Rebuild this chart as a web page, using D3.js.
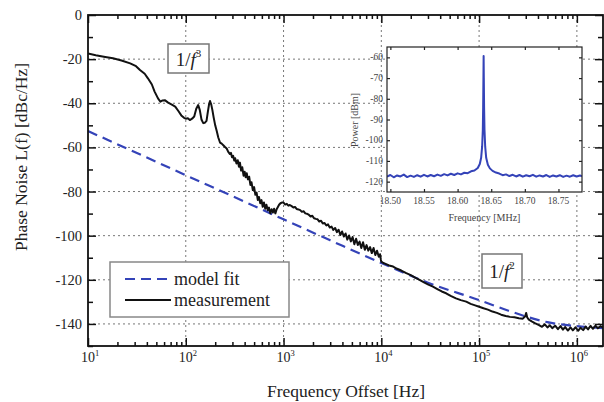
<!DOCTYPE html>
<html>
<head>
<meta charset="utf-8">
<script src="https://cdn.jsdelivr.net/npm/d3@7"></script>
<style>
  body { margin: 0; background: #fff; }
  svg { display: block; font-family: "Liberation Serif", "Times New Roman", serif; }
</style>
</head>
<body>
<svg id="chart" width="604" height="402"></svg>
<script>
// ---- main plot data ----
var measFreq = [10, 12, 15, 18, 22, 27, 31, 34, 38, 41, 45, 48, 52, 55, 58, 61, 66, 72, 78, 84, 90, 96,
  100, 105, 110, 116, 122, 128, 134, 139, 145, 151, 157, 163, 168, 173, 177, 182, 187, 193, 200, 207,
  215, 224, 233, 242, 252, 262, 272, 283,
  290, 297, 305, 313, 320, 330, 340, 350, 358, 368, 378, 390, 400, 410, 420, 432, 445, 458, 470, 485,
  500, 515, 530, 545, 560, 578, 595, 612, 630, 650, 668, 690, 710, 732, 755, 778, 800, 825, 850, 875,
  900, 930, 960,
  1000, 1040, 1080, 1120, 1160, 1210, 1260, 1310, 1360, 1420, 1480, 1540, 1600, 1670, 1740, 1810, 1890,
  1970, 2050, 2140, 2230, 2320, 2420, 2520, 2630, 2740, 2850, 2970, 3100, 3230, 3370, 3510, 3660, 3810,
  3970, 4140, 4310, 4490, 4680, 4880, 5080, 5300, 5520, 5750, 5990, 6240, 6500, 6780, 7060, 7360, 7670,
  7990, 8330, 8680, 9040, 9420, 9700, 9900, 10000,
  10500, 11200, 12000, 13200, 14500, 16000, 18000, 20000, 22200, 24600, 27300, 30300, 33700, 37400,
  41500, 46000, 51200, 58000, 65000, 73800, 82000, 91000, 100000, 111000, 123000, 137000, 152000,
  168000, 187000, 207000, 230000, 255000, 280000, 296000, 303000, 310000, 320000, 345000, 372000, 410000,
  440000, 470000, 500000, 530000, 560000, 600000, 640000, 680000, 720000, 760000, 810000, 860000,
  910000, 970000, 1030000, 1090000, 1160000, 1230000, 1300000, 1380000, 1460000, 1550000, 1640000,
  1740000, 1850000];
var measDb = [-17.4, -18.2, -19.0, -19.6, -20.6, -21.9, -23.2, -24.9, -26.6, -28.7, -31.5, -34.7, -37.8,
  -39.3, -38.7, -38.6, -39.7, -40.6, -41.5, -43.5, -45.5, -46.6,
  -47.0, -46.8, -47.6, -47.0, -46.0, -42.5, -40.8, -43.0, -47.5, -49.0, -48.8, -48.0, -44.0, -40.5,
  -39.0, -40.5, -43.0, -46.5, -50.0, -52.5, -55.5, -57.8, -58.3, -59.0, -59.8, -60.5, -62.0, -63.0,
  -62.5, -64.5, -63.8, -66.0, -64.9, -67.3, -65.8, -68.8, -66.9, -70.5, -69.0, -72.8, -71.0, -73.5,
  -71.7, -74.5, -73.3, -77.0, -75.8, -79.3, -78.0, -81.5, -80.5, -83.8, -82.5, -85.3, -83.9, -86.9,
  -85.0, -87.8, -86.0, -88.5, -87.3, -89.9, -88.0, -89.5, -87.8, -89.9, -88.0, -87.0, -86.0, -85.3, -85.0,
  -85.0, -85.9, -85.6, -86.4, -86.1, -86.6, -87.2, -87.0, -87.9, -88.1, -88.4, -89.2, -88.9, -89.9,
  -90.1, -90.5, -91.3, -91.0, -92.1, -92.4, -92.6, -93.6, -93.2, -94.5, -94.3, -95.4, -94.9, -96.3,
  -95.9, -97.4, -96.5, -98.4, -97.3, -99.7, -98.1, -100.4, -99.0, -101.8, -99.9, -102.6, -100.6,
  -103.9, -101.4, -104.2, -102.7, -105.6, -103.0, -106.4, -104.3, -106.8, -105.2, -107.9, -105.6,
  -108.8, -106.8, -109.6, -108.4, -111.0, -111.8,
  -112.4, -112.9, -113.5, -114.0, -115.0, -115.8, -117.0, -117.9, -119.0, -120.0, -121.2, -122.2,
  -123.1, -124.2, -125.3, -126.1, -127.3, -128.4, -129.2, -129.9, -130.9, -131.6, -132.2, -132.9,
  -133.5, -134.4, -135.0, -135.8, -136.4, -136.8, -137.0, -137.4, -137.6, -136.5, -135.0, -137.0,
  -137.9, -138.8, -139.6, -140.5,
  -141.3, -140.2, -141.6, -140.6, -141.9, -140.8, -142.4, -141.0, -142.6, -141.4, -143.0, -141.6,
  -142.9, -141.5, -143.1, -141.7, -142.8, -141.2, -142.5, -140.9, -142.2, -140.8, -142.0, -141.0, -141.6];

var fitFreq = [10, 30, 100, 300, 1000, 3000, 10000, 30000, 100000, 200000, 300000, 500000, 1000000, 2000000];
var fitDb = [-52.6, -62.1, -72.6, -82.1, -92.6, -102.1, -112.4, -121.3, -129.2, -134.0, -136.6, -139.2, -141.0, -142.0];

var yTicksMajor = [0, -20, -40, -60, -80, -100, -120, -140];
var yTicksMinor = [-10, -30, -50, -70, -90, -110, -130, -150];
var xDecades = [1, 2, 3, 4, 5, 6];

// ---- inset data ----
var insetFreq = [18.495, 18.500, 18.505, 18.510, 18.515, 18.520, 18.525, 18.530, 18.535, 18.540, 18.545,
  18.550, 18.555, 18.560, 18.565, 18.570, 18.575, 18.580, 18.585, 18.590, 18.595, 18.600, 18.605,
  18.610, 18.615, 18.620, 18.625, 18.630, 18.633, 18.635, 18.6365, 18.6375, 18.638, 18.6384, 18.6387,
  18.639, 18.6394, 18.640, 18.641, 18.6425, 18.645, 18.648, 18.652, 18.657, 18.662, 18.667, 18.672,
  18.677, 18.682, 18.687, 18.692, 18.697, 18.702, 18.707, 18.712, 18.717, 18.722, 18.727, 18.732,
  18.737, 18.742, 18.747, 18.752, 18.757, 18.762, 18.767, 18.772, 18.777, 18.782, 18.785];
var insetPower = [-117.6, -116.8, -117.9, -117.0, -117.5, -116.6, -117.8, -117.1, -117.7, -116.9, -117.6,
  -116.7, -117.5, -116.8, -117.4, -116.6, -117.2, -116.4, -117.0, -116.2, -116.8, -116.0, -116.5,
  -115.7, -115.9, -115.0, -114.6, -113.4, -111.5, -108.5, -103, -95, -84, -70, -59.3,
  -70, -84, -95, -103, -108.5, -111.8, -113.6, -114.8, -115.6, -116.1, -116.9, -116.5,
  -117.3, -116.7, -117.5, -116.8, -117.6, -116.9, -117.4, -116.7, -117.6, -117.0, -117.5, -116.8,
  -117.7, -117.0, -117.5, -116.9, -117.7, -117.1, -117.6, -116.9, -117.5, -117.0, -117.4];
var insetXTicks = [18.50, 18.55, 18.60, 18.65, 18.70, 18.75];
var insetYTicks = [-60, -70, -80, -90, -100, -110, -120];

var blue = "#3443b8";
var svg = d3.select("#chart");

// plot box (named to avoid clashing with window.top)
var pL = 88, pR = 603, pT = 15, pB = 346;
var x = d3.scaleLog().domain([10, 1.85e6]).range([pL, pR]);
var y = d3.scaleLinear().domain([-150, 0]).range([pB, pT]);

svg.append("defs").append("clipPath").attr("id", "clip")
  .append("rect").attr("x", pL).attr("y", pT).attr("width", pR - pL).attr("height", pB - pT);

// grid
var grid = svg.append("g").attr("stroke", "#777").attr("stroke-width", 1).attr("stroke-dasharray", "2,3");
grid.selectAll(".gx").data(xDecades.slice(1)).enter().append("line")
  .attr("x1", d => x(Math.pow(10, d))).attr("x2", d => x(Math.pow(10, d)))
  .attr("y1", pT).attr("y2", pB);
grid.selectAll(".gy").data(yTicksMajor.slice(1)).enter().append("line")
  .attr("x1", pL).attr("x2", pR)
  .attr("y1", d => y(d)).attr("y2", d => y(d));

// curves
var plotG = svg.append("g").attr("clip-path", "url(#clip)");
var fitLine = d3.line().x(d => x(d[0])).y(d => y(d[1])).curve(d3.curveMonotoneX);
plotG.append("path")
  .attr("d", fitLine(fitFreq.map((f, i) => [f, fitDb[i]])))
  .attr("fill", "none").attr("stroke", blue).attr("stroke-width", 2.2).attr("stroke-dasharray", "10,6");
var measLine = d3.line().x(d => x(d[0])).y(d => y(d[1]));
plotG.append("path")
  .attr("d", measLine(measFreq.map((f, i) => [f, measDb[i]])))
  .attr("fill", "none").attr("stroke", "#111").attr("stroke-width", 2).attr("stroke-linejoin", "round");

// axes (ticks inward on all four sides)
function isDecade(d) { return Math.abs(Math.log10(d) - Math.round(Math.log10(d))) < 1e-6; }
var xTicks = x.ticks();
var axB = svg.append("g").attr("transform", "translate(0," + pB + ")")
  .call(d3.axisBottom(x).tickValues(xTicks).tickSizeInner(-4).tickSizeOuter(0).tickFormat(""));
var axT = svg.append("g").attr("transform", "translate(0," + pT + ")")
  .call(d3.axisTop(x).tickValues(xTicks).tickSizeInner(-4).tickSizeOuter(0).tickFormat(""));
axB.selectAll(".tick line").filter(isDecade).attr("y2", -8);
axT.selectAll(".tick line").filter(isDecade).attr("y2", 8);

var yAll = yTicksMajor.concat(yTicksMinor);
var axL = svg.append("g").attr("transform", "translate(" + pL + ",0)")
  .call(d3.axisLeft(y).tickValues(yAll).tickSizeInner(-5).tickSizeOuter(0).tickFormat(""));
var axR = svg.append("g").attr("transform", "translate(" + pR + ",0)")
  .call(d3.axisRight(y).tickValues(yAll).tickSizeInner(-5).tickSizeOuter(0).tickFormat(""));
axL.selectAll(".tick line").filter(d => d % 20 === 0).attr("x2", 8);
axR.selectAll(".tick line").filter(d => d % 20 === 0).attr("x2", -8);
svg.selectAll(".domain").remove();
svg.selectAll(".tick line").attr("stroke", "#111").attr("stroke-width", 1.5);

svg.append("rect").attr("x", pL).attr("y", pT).attr("width", pR - pL).attr("height", pB - pT)
  .attr("fill", "none").attr("stroke", "#111").attr("stroke-width", 1.8);

// tick labels
svg.append("g").selectAll("text").data(yTicksMajor).enter().append("text")
  .attr("x", 82).attr("y", d => y(d) + 5).attr("text-anchor", "end")
  .attr("font-size", 14.5).attr("fill", "#222").text(d => d);
var xl = svg.append("g").selectAll("text").data(xDecades).enter().append("text")
  .attr("x", d => x(Math.pow(10, d)) + 2).attr("y", 362).attr("text-anchor", "middle")
  .attr("font-size", 14).attr("fill", "#222");
xl.append("tspan").text("10");
xl.append("tspan").attr("dy", -6).attr("font-size", 8.5).text(d => d);

// axis titles
svg.append("text").attr("x", 346).attr("y", 397).attr("text-anchor", "middle")
  .attr("font-size", 17.5).attr("fill", "#222").text("Frequency Offset [Hz]");
svg.append("text").attr("transform", "translate(27,157) rotate(-90)").attr("text-anchor", "middle")
  .attr("font-size", 17.5).attr("fill", "#222").text("Phase Noise L(f) [dBc/Hz]");

// annotation boxes
function slopeBox(bx, by, bw, bh, power) {
  svg.append("rect").attr("x", bx).attr("y", by).attr("width", bw).attr("height", bh)
    .attr("fill", "#fff").attr("stroke", "#777").attr("stroke-width", 1.5);
  var t = svg.append("text").attr("x", bx + bw / 2).attr("y", by + bh / 2 + 7)
    .attr("text-anchor", "middle").attr("font-size", 19).attr("fill", "#222");
  t.append("tspan").text("1/");
  t.append("tspan").attr("font-style", "italic").text("f");
  t.append("tspan").attr("dy", -9).attr("font-size", 11).text(power);
}
slopeBox(168, 44, 41, 29, "3");
slopeBox(482, 254, 40, 34, "2");

// legend
svg.append("rect").attr("x", 110).attr("y", 262).attr("width", 179).attr("height", 55)
  .attr("fill", "#fff").attr("stroke", "#888").attr("stroke-width", 1.5);
svg.append("line").attr("x1", 125).attr("x2", 171).attr("y1", 279).attr("y2", 279)
  .attr("stroke", blue).attr("stroke-width", 2.2).attr("stroke-dasharray", "10,6");
svg.append("line").attr("x1", 125).attr("x2", 171).attr("y1", 300).attr("y2", 300)
  .attr("stroke", "#111").attr("stroke-width", 2);
svg.append("text").attr("x", 174).attr("y", 285).attr("font-size", 18).attr("fill", "#222").text("model fit");
svg.append("text").attr("x", 174).attr("y", 306).attr("font-size", 18).attr("fill", "#222").text("measurement");

// ---- inset ----
var iL = 387, iR = 582, iT = 47, iB = 192;
var xi = d3.scaleLinear().domain([18.495, 18.785]).range([iL, iR]);
var yi = d3.scaleLinear().domain([-125, -55]).range([iB, iT]);
var inset = svg.append("g");
inset.append("rect").attr("x", iL).attr("y", iT).attr("width", iR - iL).attr("height", iB - iT)
  .attr("fill", "#fff");
inset.append("clipPath").attr("id", "iclip").append("rect")
  .attr("x", iL).attr("y", iT).attr("width", iR - iL).attr("height", iB - iT);
var iLine = d3.line().x(d => xi(d[0])).y(d => yi(d[1]));
inset.append("path").attr("clip-path", "url(#iclip)")
  .attr("d", iLine(insetFreq.map((f, i) => [f, insetPower[i]])))
  .attr("fill", "none").attr("stroke", blue).attr("stroke-width", 2).attr("stroke-linejoin", "round");

var iax = [
  inset.append("g").attr("transform", "translate(0," + iB + ")")
    .call(d3.axisBottom(xi).tickValues(insetXTicks).tickSizeInner(-3).tickSizeOuter(0).tickFormat("")),
  inset.append("g").attr("transform", "translate(0," + iT + ")")
    .call(d3.axisTop(xi).tickValues(insetXTicks).tickSizeInner(-3).tickSizeOuter(0).tickFormat("")),
  inset.append("g").attr("transform", "translate(" + iL + ",0)")
    .call(d3.axisLeft(yi).tickValues(insetYTicks).tickSizeInner(-3).tickSizeOuter(0).tickFormat("")),
  inset.append("g").attr("transform", "translate(" + iR + ",0)")
    .call(d3.axisRight(yi).tickValues(insetYTicks).tickSizeInner(-3).tickSizeOuter(0).tickFormat(""))
];
iax.forEach(function (g) {
  g.select(".domain").remove();
  g.selectAll(".tick line").attr("stroke", "#222").attr("stroke-width", 1.2);
});
inset.append("rect").attr("x", iL).attr("y", iT).attr("width", iR - iL).attr("height", iB - iT)
  .attr("fill", "none").attr("stroke", "#222").attr("stroke-width", 1.2);

inset.append("g").selectAll("text").data(insetYTicks).enter().append("text")
  .attr("x", iL - 4).attr("y", d => yi(d) + 3).attr("text-anchor", "end")
  .attr("font-size", 9.5).attr("fill", "#444").text(d => d);
inset.append("g").selectAll("text").data(insetXTicks).enter().append("text")
  .attr("x", d => xi(d)).attr("y", iB + 12).attr("text-anchor", "middle")
  .attr("font-size", 9.5).attr("fill", "#444").text(d => d.toFixed(2));
inset.append("text").attr("x", (iL + iR) / 2).attr("y", iB + 29).attr("text-anchor", "middle")
  .attr("font-size", 10).attr("fill", "#444").text("Frequency [MHz]");
inset.append("text").attr("transform", "translate(358,120) rotate(-90)").attr("text-anchor", "middle")
  .attr("font-size", 10).attr("fill", "#444").text("Power [dBm]");
</script>
</body>
</html>
